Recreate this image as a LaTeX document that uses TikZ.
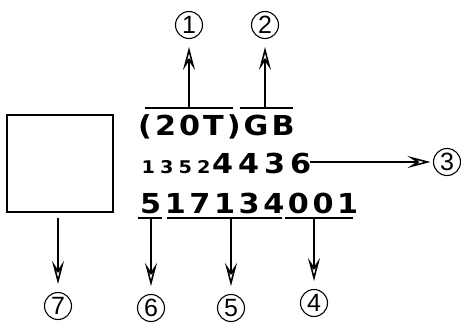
\documentclass[tikz,border=0pt]{standalone}
\usepackage{fontspec}
\setmainfont{DejaVu Sans}
\newfontfamily\tagfont{Liberation Sans}
\usetikzlibrary{arrows.meta}

\tikzset{
  code/.style={anchor=base west, inner sep=0pt,
    font=\bfseries\fontsize{27.5}{27.5}\selectfont\addfontfeatures{FakeStretch=1.1, LetterSpace=#1}},
  code/.default=13,
  smallcode/.style={anchor=base west, inner sep=0pt,
    font=\bfseries\fontsize{17.5}{17.5}\selectfont\addfontfeatures{FakeStretch=1.1, LetterSpace=29}},
  tag/.style={circle, draw, line width=1.1pt, minimum size=27pt, inner sep=0pt,
    outer sep=8.5pt, font=\tagfont\fontsize{25}{25}\selectfont},
  pointer/.style={line width=1.6pt,
    -{Stealth[open, length=23pt, width=12pt, inset=9pt, line width=1.6pt]}},
  rule/.style={line width=1.6pt},
  frame/.style={draw, line width=1.8pt, inner sep=0pt},
}

\begin{document}
\begin{tikzpicture}[x=1pt, y=-1pt]
\useasboundingbox (0,0) rectangle (461,324);

% designation text
\node[code=11] (l1) at (138,135.5) {(20T)GB};
\node[smallcode] (l2a) at (141.5,173.5) {1352};
\node[code=18] (l2b) at (212,173.5) {4436};
\node[code=13] (l3) at (140,213) {517134001};

% blank frame on the left
\node[frame, minimum width=106pt, minimum height=97pt] (box) at (60,163.5) {};

% reference tags
\node[tag] (c1) at (189,25) {1};
\node[tag] (c2) at (265,25) {2};
\node[tag] (c3) at (447,162) {3};
\node[tag] (c4) at (314,303) {4};
\node[tag] (c5) at (231,308) {5};
\node[tag] (c6) at (151,308) {6};
\node[tag] (c7) at (58,306) {7};

% over- and underlines of the groups
\draw[rule] (145,108) -- (233,108);
\draw[rule] (240,108) -- (293,108);
\draw[rule] (138,218) -- (162,218);
\draw[rule] (167,218) -- (282,218);
\draw[rule] (285,218) -- (353,218);

% leader start points
\coordinate (p1) at (189,108);
\coordinate (p2) at (265,108);
\coordinate (p3) at (310,162);
\coordinate (p4) at (314,218);
\coordinate (p5) at (231,218);
\coordinate (p6) at (151,218);
\coordinate (p7) at (58,218);

% leaders
\draw[pointer] (p1) -- (c1);
\draw[pointer] (p2) -- (c2);
\draw[pointer, shorten >=-5.5pt] (p3) -- (c3);
\draw[pointer] (p4) -- (c4);
\draw[pointer] (p5) -- (c5);
\draw[pointer] (p6) -- (c6);
\draw[pointer] (p7) -- (c7);
\end{tikzpicture}
\end{document}
